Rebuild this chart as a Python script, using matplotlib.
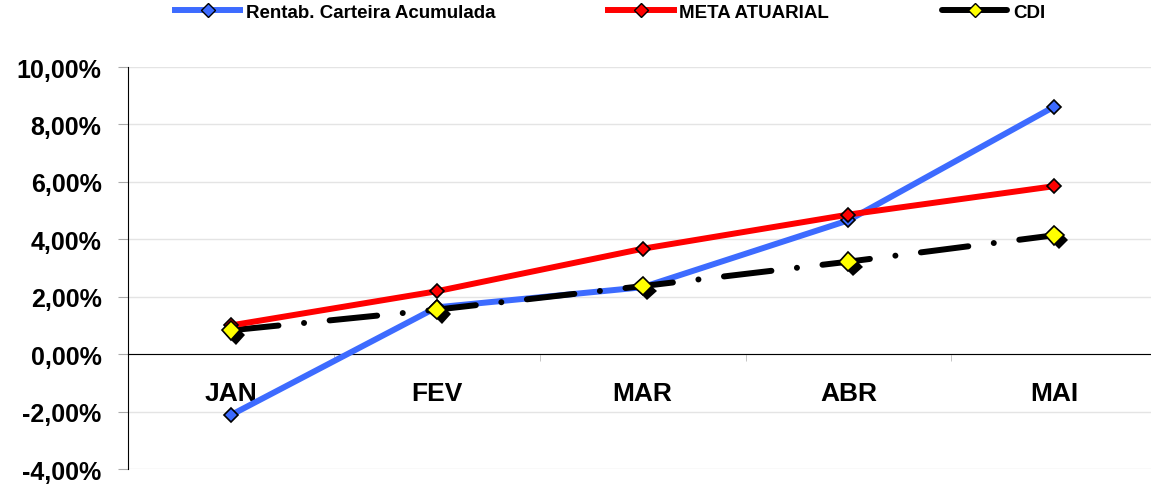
import matplotlib.pyplot as plt
import matplotlib.patheffects as pe
from matplotlib.lines import Line2D
from matplotlib.ticker import FuncFormatter, FixedLocator

meses = ["JAN", "FEV", "MAR", "ABR", "MAI"]
rentab = [-2.12, 1.63, 2.33, 4.66, 8.62]
meta = [1.00, 2.19, 3.67, 4.86, 5.85]
cdi = [0.83, 1.55, 2.37, 3.22, 4.14]

plt.rcParams["font.family"] = ["Liberation Sans", "DejaVu Sans"]
plt.rcParams["font.weight"] = "bold"

fig = plt.figure(figsize=(11.51, 4.89), dpi=100)
ax = fig.add_axes([128 / 1151, 1 - 470 / 489, 1 - 128 / 1151, (470 - 68) / 489])

x = list(range(len(meses)))

ax.plot(x, rentab, color="#3D6BFF", lw=4.3, marker="D", ms=7,
        mfc="#3D6BFF", mec="black", mew=1.2, zorder=3, solid_capstyle="butt")
ax.plot(x, meta, color="#FF0000", lw=4.3, marker="D", ms=7,
        mfc="#FF0000", mec="black", mew=1.2, zorder=5, solid_capstyle="butt")
ax.plot(x, cdi, color="black", lw=4.3, ls=(0, (8.0, 4.3, 0.01, 4.3)),
        dash_capstyle="round", zorder=4)
# marcadores do CDI com sombra
ax.plot(x, cdi, ls="none", marker="D", ms=9.5, mfc="#FFFF00", mec="black",
        mew=1.2, zorder=6,
        path_effects=[pe.withSimplePatchShadow(offset=(3.5, -3.5),
                                               shadow_rgbFace="black", alpha=1)])

ax.set_xlim(-0.5, 4.47)
ax.set_ylim(-4, 10)
ax.set_yticks(range(-4, 11, 2))
ax.yaxis.set_major_formatter(FuncFormatter(lambda v, p: f"{v:.2f}%".replace(".", ",")))
ax.grid(axis="y", color="#E4E4E4", lw=1)
ax.set_axisbelow(True)

ax.spines["top"].set_visible(False)
ax.spines["right"].set_visible(False)
ax.spines["left"].set_color("black")
ax.spines["bottom"].set_position(("data", 0))
ax.spines["bottom"].set_color("black")

ax.set_xticks(x)
ax.set_xticklabels(meses)
ax.xaxis.set_minor_locator(FixedLocator([0.5, 1.5, 2.5, 3.5]))
ax.tick_params(axis="x", which="major", length=0, pad=19, labelsize=19)
ax.tick_params(axis="x", which="minor", length=5, color="#BBBBBB", direction="out")
ax.tick_params(axis="y", length=7, color="#AAAAAA", pad=12, labelsize=18)
for lab in ax.get_xticklabels() + ax.get_yticklabels():
    lab.set_fontweight("bold")

handles = [
    Line2D([], [], color="#3D6BFF", lw=4.3, marker="D", ms=7, mfc="#3D6BFF", mec="black"),
    Line2D([], [], color="#FF0000", lw=4.3, marker="D", ms=7, mfc="#FF0000", mec="black"),
    Line2D([], [], color="black", lw=4.3, marker="D", ms=7, mfc="#FFFF00", mec="black",
           solid_capstyle="round"),
]
labels = ["Rentab. Carteira Acumulada", "META ATUARIAL", "CDI"]
fig.legend(handles, labels, loc="upper center", ncol=3, frameon=False,
           bbox_to_anchor=(0.53, 1.025), handlelength=3.5, handletextpad=0.3,
           columnspacing=6.0, prop={"weight": "bold", "size": 13.5})

fig.savefig("out.png", dpi=100)
